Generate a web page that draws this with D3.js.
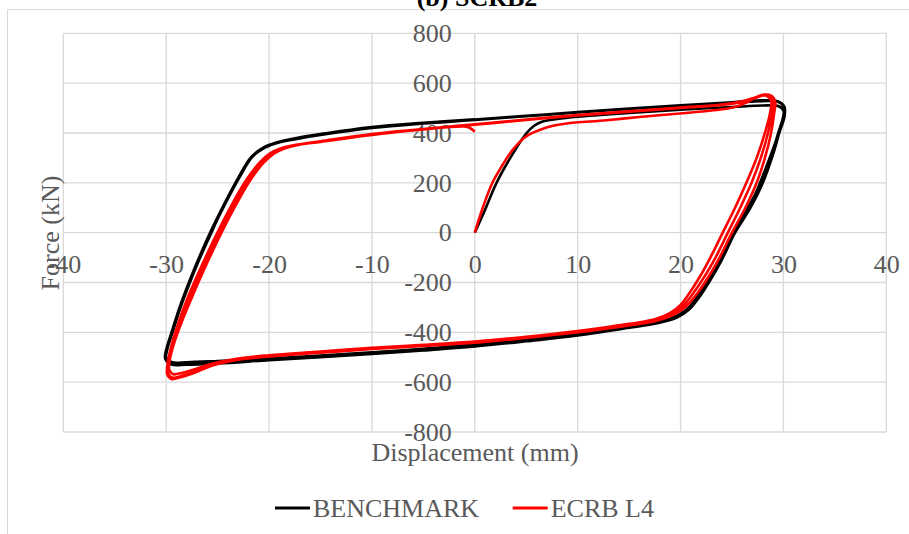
<html>
<head>
<meta charset="utf-8">
<script src="https://d3js.org/d3.v7.min.js"></script>
<style>
body { margin: 0; background: #fff; }
svg { display: block; font-family: "Liberation Serif", "Times New Roman", serif; }
</style>
</head>
<body>
<div id="chart"></div>
<script type="text/javascript">

// tick values
var xTicks = [-40, -30, -20, -10, 0, 10, 20, 30, 40];
var yTicks = [-800, -600, -400, -200, 0, 200, 400, 600, 800];

// BENCHMARK loops, [displacement mm, force kN]
var benchmark = [
	[0,0],[1,92],[2.1,199],[3.7,317],[5,398],[5.8,430],[6.6,446],[8,456],[10,465],[15,480],[20,493],[25,504],[28,510],[29.5,508],[30,490],[29.8,430],
	[29.2,360],[28.2,250],[27.2,150],[25.8,50],[24.8,-20],[23.6,-120],[22.5,-200],[21.4,-270],[20.4,-315],[19,-345],[17,-362],[15,-374],[10,-404],[5,-428],[0,-448],[-5,-466],[-10,-480],[-15,-493],[-20,-505],[-25,-515],[-28,-520],[-29.4,-520],[-30,-500],[-29.9,-470],
	[-29.4,-400],[-28.8,-320],[-27.8,-210],[-26.8,-110],[-25.6,0],[-24.4,110],[-23.1,210],[-21.8,300],[-20.6,340],[-19.5,358],[-17.3,376],[-15,392],[-10,420],[-5,438],[0,452],[5,467],[10,482],[15,496],[20,509],[25,521],[28,528],[29.4,526],[30,508],[30,470],
	[29.5,400],[28.9,320],[27.9,200],[26.6,100],[25.1,0],[23.8,-110],[22.7,-190],[21.6,-260],[20.6,-310],[19.4,-340],[17.5,-360],[15,-378],[10,-410],[5,-433],[0,-454],[-5,-470],[-10,-485],[-15,-498],[-20,-510],[-25,-522],[-28,-527],[-29.4,-527],[-30,-505],[-29.9,-470],
	[-29.3,-390],[-28.6,-300],[-27.6,-190],[-26.6,-90],[-25.4,20],[-24.2,120],[-22.9,220],[-21.6,305],[-20.3,343],[-19.2,360],[-17,380],[-15,394],[-10,422],[-5,440],[0,454],[5,469],[10,484],[15,498],[20,511],[25,523],[28,531],[29.5,527],[30.1,505],[30.1,465],
	[29.6,400],[29,315],[28,200],[26.8,100],[25.3,0],[24,-110],[22.9,-190],[21.8,-260],[20.8,-310],[19.6,-342],[17.7,-364],[15,-382],[10,-413],[5,-436],[0,-457],[-5,-473],[-10,-487],[-15,-500],[-20,-512],[-25,-525],[-28,-530],[-29.5,-529],[-30.1,-505],[-30,-470],
	[-29.4,-390],[-28.7,-300],[-27.7,-190],[-26.7,-90],[-25.5,20],[-24.3,120],[-23,220],[-21.7,305],[-20.4,345],[-19.3,362],[-17.1,382],[-15,396],[-10,424],[-5,441],[0,455]
];

// ECRB L4 loops
var ecrb = [
	[0,0],[0.8,103],[1.7,199],[2.6,265],[3.4,317],[4.1,352],[4.7,377],[5.5,398],[6.3,412],[7.5,428],[8.9,438],[12.8,451],[16,464],[19.9,478],[23,490],[25.1,502],[26.4,522],[27.2,540],[27.8,551],[28.3,550],[28.8,530],[28.7,480],
	[28.2,400],[27.4,300],[26.4,200],[25.3,100],[24.1,0],[22.9,-100],[21.9,-175],[20.9,-240],[20,-290],[19,-322],[17.5,-348],[15,-366],[10,-395],[5,-418],[0,-437],[-5,-450],[-10,-462],[-15,-477],[-20,-492],[-23,-505],[-25.5,-525],[-27,-545],[-28.5,-563],[-29.3,-568],[-29.7,-550],[-29.6,-500],
	[-29.2,-440],[-28.5,-360],[-27.5,-260],[-26.5,-165],[-25.5,-75],[-24.5,10],[-23.5,90],[-22.5,165],[-21.5,230],[-20.5,282],[-19.5,318],[-18.5,338],[-17.2,352],[-15,364],[-10,392],[-5,414],[0,433],[5,452],[10,470],[15,485],[20,500],[24,512],[26,524],[27.2,540],[28,551],[28.6,548],[29,525],[28.9,480],
	[28.5,400],[27.8,300],[26.9,200],[25.8,100],[24.6,0],[23.4,-100],[22.3,-178],[21.2,-245],[20.2,-295],[19.1,-327],[17.5,-352],[15,-370],[10,-398],[5,-420],[0,-440],[-5,-453],[-10,-465],[-15,-480],[-20,-495],[-23,-508],[-25.5,-530],[-27,-555],[-28.5,-575],[-29.4,-582],[-29.8,-565],[-29.7,-510],
	[-29.3,-440],[-28.7,-360],[-27.7,-260],[-26.7,-165],[-25.7,-75],[-24.7,10],[-23.7,90],[-22.7,165],[-21.7,230],[-20.7,282],[-19.7,318],[-18.7,338],[-17.4,352],[-15,366],[-10,395],[-5,416],[0,435],[5,454],[10,472],[15,487],[20,502],[24,514],[26,527],[27.3,543],[28.1,554],[28.8,550],[29.2,525],[29.1,480],
	[28.8,400],[28.2,300],[27.4,200],[26.3,100],[25,0],[23.8,-100],[22.7,-178],[21.6,-245],[20.5,-297],[19.3,-330],[17.6,-355],[15,-372],[10,-400],[5,-422],[0,-442],[-5,-455],[-10,-467],[-15,-482],[-20,-497],[-23,-510],[-25.5,-533],[-27,-558],[-28.6,-580],[-29.5,-587],[-29.9,-568],[-29.8,-510],
	[-29.4,-440],[-28.8,-360],[-27.9,-260],[-26.9,-165],[-25.9,-75],[-24.9,10],[-23.9,90],[-22.9,165],[-21.9,230],[-20.9,282],[-19.9,318],[-18.9,338],[-17.5,352],[-15,367],[-10,396],[-5,416],[-1,426],[-0.5,421],[0,405]
];

var seriesNames = ["BENCHMARK", "ECRB L4"];
var seriesColors = ["#000000", "#ff0000"];
var seriesData = [benchmark, ecrb];

var width = 909, height = 534;
var textColor = "#595959";
var gridColor = "#d9d9d9";

var svg = d3.select("#chart").append("svg")
	.attr("width", width)
	.attr("height", height);

var x = d3.scaleLinear().domain([-40, 40]).range([63.3, 886.3]);
var y = d3.scaleLinear().domain([-800, 800]).range([432, 33.3]);

// chart area border
svg.append("rect")
	.attr("x", 7.5).attr("y", 9.5)
	.attr("width", width + 10).attr("height", height + 10)
	.style("fill", "none")
	.style("stroke", gridColor);

// title, cut off at the top like the original
svg.append("text")
	.attr("x", 477).attr("y", 6)
	.attr("text-anchor", "middle")
	.style("font-size", "26px")
	.style("font-weight", "bold")
	.style("fill", "#000")
	.text("(b) SCRB2");

// gridlines
svg.append("g").selectAll("line")
	.data(xTicks).enter().append("line")
	.attr("x1", function(d) { return x(d); })
	.attr("x2", function(d) { return x(d); })
	.attr("y1", y(800)).attr("y2", y(-800))
	.style("stroke", gridColor).style("stroke-width", 1.3);

svg.append("g").selectAll("line")
	.data(yTicks).enter().append("line")
	.attr("y1", function(d) { return y(d); })
	.attr("y2", function(d) { return y(d); })
	.attr("x1", x(-40)).attr("x2", x(40))
	.style("stroke", gridColor).style("stroke-width", 1.3);

// axes cross at zero, plain hyphen for negatives
var fmt = function(d) { return String(d); };

var xAxis = svg.append("g")
	.attr("transform", "translate(0," + y(0) + ")")
	.call(d3.axisBottom(x).tickValues(xTicks).tickFormat(fmt).tickSize(0).tickPadding(22));

var yAxis = svg.append("g")
	.attr("transform", "translate(" + x(0) + ",0)")
	.call(d3.axisLeft(y).tickValues(yTicks).tickFormat(fmt).tickSize(0).tickPadding(23));

[xAxis, yAxis].forEach(function(a) {
	a.select(".domain").remove();
	a.selectAll("text")
		.style("font-family", "'Liberation Serif', 'Times New Roman', serif")
		.style("font-size", "26px")
		.style("fill", textColor);
});

// axis titles
svg.append("text")
	.attr("x", 475).attr("y", 461)
	.attr("text-anchor", "middle")
	.style("font-size", "26px")
	.style("fill", textColor)
	.text("Displacement (mm)");

svg.append("text")
	.attr("transform", "translate(59,233) rotate(-90)")
	.attr("text-anchor", "middle")
	.style("font-size", "26px")
	.style("fill", textColor)
	.text("Force (kN)");

// hysteresis curves
var line = d3.line()
	.x(function(d) { return x(d[0]); })
	.y(function(d) { return y(d[1]); })
	.curve(d3.curveCatmullRom.alpha(0.5));

svg.append("g").selectAll("path")
	.data(seriesData).enter().append("path")
	.attr("d", function(d) { return line(d); })
	.style("fill", "none")
	.style("stroke", function(d, i) { return seriesColors[i]; })
	.style("stroke-width", 2.6)
	.style("stroke-linejoin", "round");

// legend
var legendX = [275, 512.7];
var legend = svg.append("g").selectAll("g")
	.data(seriesNames).enter().append("g")
	.attr("transform", function(d, i) { return "translate(" + legendX[i] + ",508)"; });

legend.append("line")
	.attr("x1", 0).attr("x2", 35)
	.style("stroke", function(d, i) { return seriesColors[i]; })
	.style("stroke-width", 3);

legend.append("text")
	.attr("x", 38).attr("y", 9)
	.style("font-size", "26px")
	.style("fill", textColor)
	.text(function(d) { return d; });

</script>
</body>
</html>
